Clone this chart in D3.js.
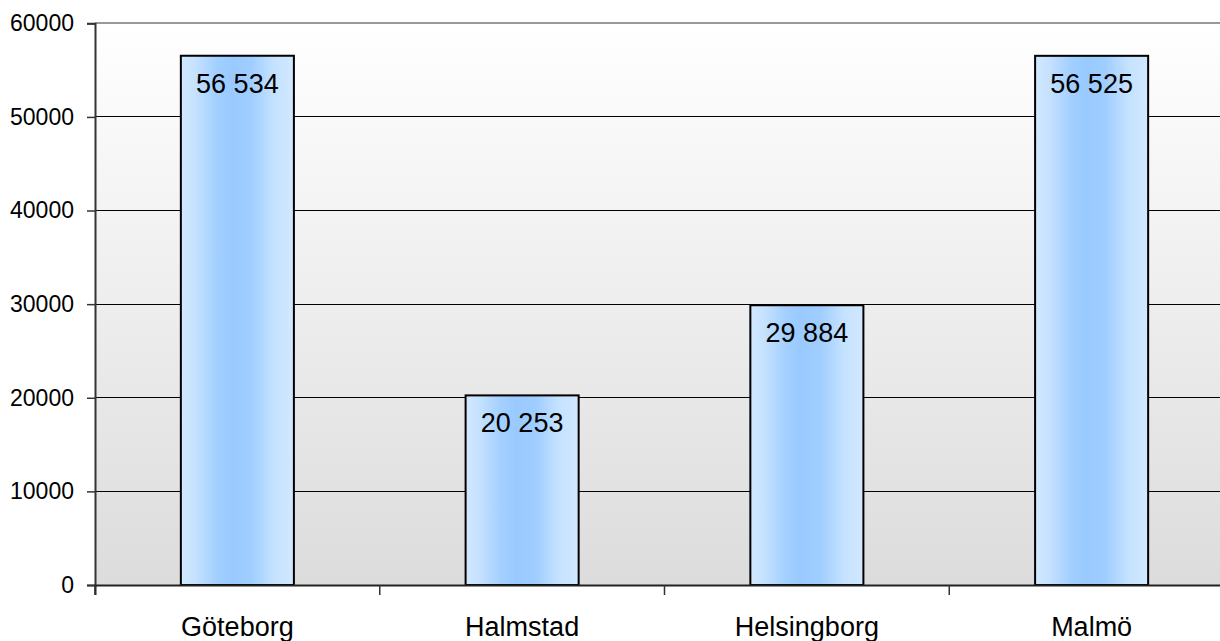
<!DOCTYPE html>
<html>
<head>
<meta charset="utf-8">
<script src="https://cdn.jsdelivr.net/npm/d3@7"></script>
<style>
  html, body { margin: 0; padding: 0; background: #ffffff; }
  svg { display: block; }
  text { font-family: "Liberation Sans", Arial, sans-serif; fill: #000; }
</style>
</head>
<body>
<svg id="chart" width="1220" height="641"></svg>
<script>
// Population per city
const categories = ["Göteborg", "Halmstad", "Helsingborg", "Malmö"];
const values = [56534, 20253, 29884, 56525];
const yTicks = [0, 10000, 20000, 30000, 40000, 50000, 60000];

const svg = d3.select("#chart");
const plotLeft = 95, plotRight = 1234, plotTop = 23.3, plotBottom = 585;

const x = d3.scaleBand().domain(categories).range([plotLeft, plotRight]).padding(0);
const y = d3.scaleLinear().domain([0, 60000]).range([plotBottom, plotTop]);

const defs = svg.append("defs");

// Plot background: light at the top, grey at the bottom
const bg = defs.append("linearGradient").attr("id", "bgGrad")
  .attr("x1", 0).attr("y1", 0).attr("x2", 0).attr("y2", 1);
bg.append("stop").attr("offset", "0%").attr("stop-color", "#ffffff");
bg.append("stop").attr("offset", "100%").attr("stop-color", "#dcdcdc");

// Bar fill: pale edges with a deeper blue middle
const bar = defs.append("linearGradient").attr("id", "barGrad")
  .attr("x1", 0).attr("y1", 0).attr("x2", 1).attr("y2", 0);
[["0%", "#d2e8ff"], ["12%", "#c6e2ff"], ["32%", "#a2cfff"], ["45%", "#99caff"],
 ["62%", "#9fcdff"], ["82%", "#c4e2ff"], ["100%", "#d2e8ff"]]
  .forEach(([o, c]) => bar.append("stop").attr("offset", o).attr("stop-color", c));

svg.append("rect")
  .attr("x", plotLeft).attr("y", plotTop)
  .attr("width", plotRight - plotLeft).attr("height", plotBottom - plotTop)
  .attr("fill", "url(#bgGrad)");

// Horizontal gridlines
svg.append("g").selectAll("line")
  .data(yTicks.filter(t => t > 0))
  .join("line")
  .attr("x1", plotLeft).attr("x2", plotRight)
  .attr("y1", d => y(d)).attr("y2", d => y(d))
  .attr("stroke", d => d === 60000 ? "#999999" : "#000000")
  .attr("stroke-width", d => d === 60000 ? 2 : 1)
  .attr("shape-rendering", "crispEdges");

// Y axis
const yAxis = d3.axisLeft(y).tickValues(yTicks).tickSize(8).tickPadding(13)
  .tickFormat(d3.format("d"));
const gy = svg.append("g").attr("transform", `translate(${plotLeft},0)`).call(yAxis);
gy.select(".domain").attr("stroke", "#333").attr("stroke-width", 2);
gy.selectAll(".tick line").attr("stroke", "#333").attr("stroke-width", 1.5);
gy.selectAll(".tick text").attr("font-size", 23)
  .style("font-family", "'Liberation Sans', Arial, sans-serif").attr("fill", "#000");

// Bars
const bw = x.bandwidth() * 0.397;
svg.append("g").selectAll("rect")
  .data(categories.map((c, i) => ({ c, v: values[i] })))
  .join("rect")
  .attr("x", d => x(d.c) + (x.bandwidth() - bw) / 2)
  .attr("y", d => y(d.v))
  .attr("width", bw)
  .attr("height", d => y(0) - y(d.v))
  .attr("fill", "url(#barGrad)")
  .attr("stroke", "#000")
  .attr("stroke-width", 2);

// X axis along zero
const xAxis = d3.axisBottom(x).tickSize(10).tickPadding(20).tickFormat(d => d);
const gx = svg.append("g").attr("transform", `translate(0,${plotBottom})`).call(xAxis);
gx.select(".domain").attr("stroke", "#222").attr("stroke-width", 2);
// Ticks sit on the band boundaries
gx.selectAll(".tick line").remove();
gx.selectAll("line.sep")
  .data(categories)
  .join("line")
  .attr("class", "sep")
  .attr("x1", d => x(d)).attr("x2", d => x(d))
  .attr("y1", 0).attr("y2", 10)
  .attr("stroke", "#333").attr("stroke-width", 1.5);
gx.selectAll(".tick text").attr("font-size", 27).attr("dy", "0.71em")
  .attr("y", 32)
  .style("font-family", "'Liberation Sans', Arial, sans-serif").attr("fill", "#000");

// Value labels inside the top of each bar
const fmt = d3.formatLocale({ decimal: ",", thousands: " ", grouping: [3], currency: ["", " kr"] }).format(",d");
svg.append("g").selectAll("text")
  .data(categories.map((c, i) => ({ c, v: values[i] })))
  .join("text")
  .attr("x", d => x(d.c) + x.bandwidth() / 2)
  .attr("y", d => y(d.v) + 37)
  .attr("text-anchor", "middle")
  .attr("font-size", 27)
  .text(d => fmt(d.v));
</script>
</body>
</html>
